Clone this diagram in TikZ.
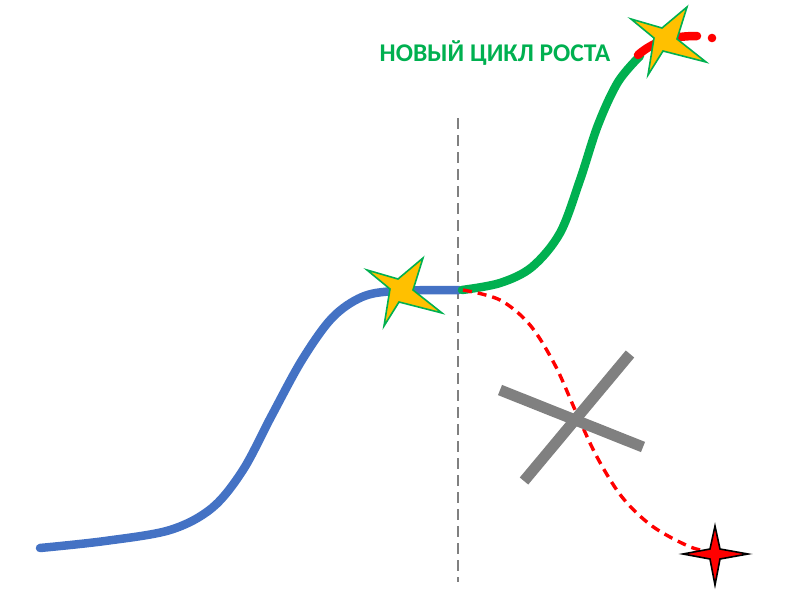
\documentclass[tikz,border=0pt]{standalone}
\usepackage{fontspec}
\setmainfont{Carlito}
\definecolor{CurveBlue}{RGB}{68,114,196}
\definecolor{CurveGreen}{RGB}{0,176,80}
\definecolor{StarYellow}{RGB}{255,192,0}
\definecolor{CrossGray}{RGB}{128,128,128}
\usetikzlibrary{positioning,calc}

\begin{document}
\begin{tikzpicture}[x=1pt, y=-1pt,
        oldcurve/.style={line width=8.5pt, CurveBlue, line cap=round},
        newcurve/.style={line width=8.5pt, CurveGreen, line cap=round},
        failcurve/.style={line width=3.4pt, red, dash pattern=on 9pt off 6pt},
        crossbar/.style={line width=11pt, CrossGray},
        growstar/.style={draw=CurveGreen, fill=StarYellow, line width=1.6pt, line join=miter},
        failstar/.style={draw=black, fill=red, line width=1.6pt},
        cyclelabel/.style={font=\bfseries\fontsize{25.5}{28}\selectfont, text=CurveGreen}
      ]
        \useasboundingbox (0,0) rectangle (807,603);

        \coordinate (split) at (459,290);
        \coordinate (topend) at (645,52);
        \coordinate (lastdot) at (712,38);

        \draw[CrossGray, line width=1.6pt, dash pattern=on 11pt off 6pt] (458,118) -- (458,582);

        \draw[oldcurve] plot[smooth, tension=0.55] coordinates {(40,548) (105,541) (170,530) (212,508) (243,470) (272,415) (302,360) (332,318) (362,297) (395,291) (459,290)};
        \draw[newcurve] plot[smooth, tension=0.55] coordinates {(462,290) (500,283) (532,267) (560,233) (580,180) (598,125) (618,82) (640,56)};
        \draw[failcurve] plot[smooth, tension=0.55] coordinates {(463,290) (500,300) (530,325) (555,365) (576,412) (597,457) (622,497) (652,526) (688,546) (706,551)};
        \draw[red, line width=8.5pt, line cap=round] (638,55) .. controls (655,40) and (675,36) .. (697,36);
        \fill[red] (lastdot) circle (4.3pt);

        \draw[crossbar] (500,390) -- (643,447);
        \draw[crossbar] (524,481) -- (630,354);

        \foreach \cx/\cy/\nm in {403/291/plateau, 667/40/peak} {
          \coordinate (\nm) at (\cx,\cy);
          \draw[growstar] ($(\nm)+(-36,-21)$) -- ($(\nm)+(-5,-12)$) -- ($(\nm)+(20,-33)$) -- ($(\nm)+(10,-1)$)
            -- ($(\nm)+(39,22)$) -- ($(\nm)+(-4,11)$) -- ($(\nm)+(-19,35)$) -- ($(\nm)+(-13,-2)$) -- cycle;
        }

        \coordinate (crash) at (715,554);
        \draw[failstar] ($(crash)+(0,-28)$) -- ($(crash)+(5,-5)$) -- ($(crash)+(33,0)$) -- ($(crash)+(5,5)$)
          -- ($(crash)+(0,31)$) -- ($(crash)+(-5,5)$) -- ($(crash)+(-32,0)$) -- ($(crash)+(-5,-5)$) -- cycle;

        \node[cyclelabel] (newcycle) at (495,53) {НОВЫЙ ЦИКЛ РОСТА};
      \end{tikzpicture}
\end{document}
